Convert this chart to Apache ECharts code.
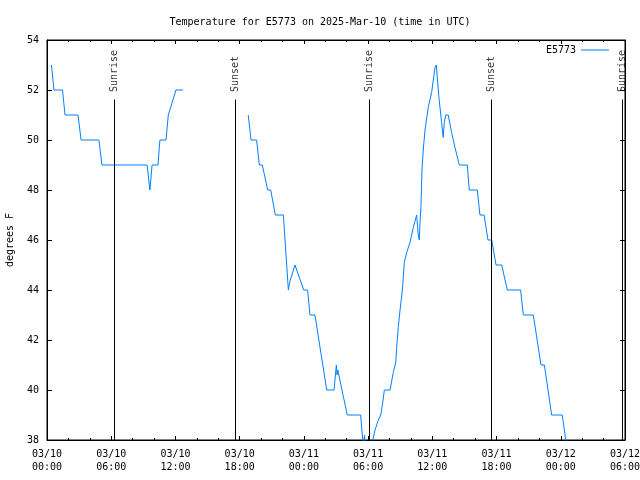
<!DOCTYPE html>
<html><head><meta charset="utf-8">
<script src="https://cdn.jsdelivr.net/npm/echarts@6/dist/echarts.min.js"></script>
<style>html,body{margin:0;padding:0;background:#fff}#c{width:640px;height:480px}</style>
</head><body><div id="c"></div>
<script>
const titleText = 'Temperature for E5773 on 2025-Mar-10 (time in UTC)';
const seriesName = 'E5773';
const yName = 'degrees F';
const times = [
'03/10 00:25','03/10 00:39','03/10 01:27','03/10 01:41','03/10 02:54','03/10 03:11','03/10 04:51','03/10 05:08',
'03/10 09:21','03/10 09:37','03/10 09:49','03/10 10:22','03/10 10:33','03/10 11:07','03/10 11:20','03/10 12:03','03/10 12:42',
'03/10 15:00',
'03/10 18:48','03/10 19:04','03/10 19:35','03/10 19:50','03/10 20:07','03/10 20:37','03/10 20:54','03/10 21:20','03/10 22:05',
'03/10 22:33','03/10 22:40','03/10 23:10','03/10 23:19','03/10 23:59','03/11 00:21','03/11 00:34','03/11 01:02','03/11 02:08',
'03/11 02:49','03/11 03:02','03/11 03:06','03/11 03:10','03/11 04:03','03/11 05:18','03/11 05:30','03/11 05:34','03/11 05:40',
'03/11 05:48','03/11 06:16','03/11 06:26','03/11 06:39','03/11 06:57','03/11 07:11','03/11 07:22','03/11 07:31','03/11 08:03',
'03/11 08:21','03/11 08:35','03/11 08:40','03/11 08:49','03/11 08:59','03/11 09:12','03/11 09:23','03/11 09:36','03/11 09:55',
'03/11 10:13','03/11 10:32','03/11 10:41','03/11 10:47','03/11 10:51','03/11 10:56','03/11 11:02','03/11 11:09','03/11 11:19',
'03/11 11:37','03/11 11:56','03/11 12:15','03/11 12:22','03/11 12:37','03/11 12:52','03/11 13:01','03/11 13:07','03/11 13:15',
'03/11 13:29','03/11 13:48','03/11 14:07','03/11 14:31','03/11 15:16','03/11 15:27','03/11 16:12','03/11 16:27','03/11 16:50',
'03/11 17:12','03/11 17:33','03/11 17:57','03/11 18:29','03/11 19:00','03/11 20:15','03/11 20:30','03/11 21:26','03/11 22:09',
'03/11 22:28','03/11 23:09','03/12 00:08','03/12 00:28','03/12 00:40'
];
const temps = [
53,52,52,51,51,50,50,49,
49,48,49,49,50,50,51,52,52,
null,
51,50,50,49,49,48,48,47,47,
44,44.3,45,45,44,44,43,43,40,
40,41,40.6,40.8,39,39,38,37.8,38.2,
37.4,37.4,38,38.4,38.8,39,39.5,40,40,
40.7,41.1,41.7,42.5,43.2,44,45.1,45.5,45.9,
46.5,47,46.2,46,46.7,47.3,48.8,49.6,50.4,
51.3,51.9,52.9,53,51.7,50.7,50.1,50.7,51,
51,50.3,49.7,49,49,48,48,47,47,
46,46,45,45,44,44,43,43,41,
41,39,39,38,37.4
];
const sunTimes = ['03/10 06:16','03/10 17:36','03/11 06:07','03/11 17:31','03/12 05:46'];
const sunLabels = ['Sunrise','Sunset','Sunrise','Sunset','Sunrise'];
const sunLineTop = 51.62;
const sunLabelBase = 51.92;
const yMin = 38, yMax = 54, yStep = 2;

function toMs(s){
  const [d,t] = s.split(' ');
  const [mo,da] = d.split('/').map(Number);
  const [h,mi] = t.split(':').map(Number);
  return Date.UTC(2025, mo-1, da, h, mi);
}
const xMin = Date.UTC(2025,2,10,0,0);
const xMax = Date.UTC(2025,2,12,6,0);
const xStep = 6*3600*1000;
const FONT = 'DejaVu Sans Mono';
const pad = n => String(n).padStart(2,'0');
function fmt(v){
  const d = new Date(v);
  return pad(d.getUTCMonth()+1)+'/'+pad(d.getUTCDate())+'\n'+pad(d.getUTCHours())+':'+pad(d.getUTCMinutes());
}
const lineData = times.map((t,i)=>[toMs(t), temps[i]===null ? '-' : temps[i]]);
const tickCommon = {
  axisLine:{show:true, lineStyle:{color:'#000', width:1}},
  axisTick:{show:true, inside:true, length:4, lineStyle:{color:'#000'}},
  splitLine:{show:false}
};
const chart = echarts.init(document.getElementById('c'), null, {renderer:'canvas'});
chart.setOption({
  animation:false,
  backgroundColor:'#fff',
  title:{text:titleText, left:'center', top:12, textStyle:{fontFamily:FONT, fontSize:10, fontWeight:'normal', color:'#000'}},
  legend:{data:[{name:seriesName, icon:'rect', itemStyle:{color:'#0080ff'}}], right:26, top:40, align:'right', itemWidth:28, itemHeight:1, itemGap:5,
    textStyle:{fontFamily:FONT, fontSize:10, color:'#000'}},
  grid:{left:47, right:15, top:40, bottom:40, show:true, borderColor:'#000', borderWidth:1, containLabel:false, outerBoundsMode:'none'},
  xAxis:[
    Object.assign({type:'value', min:xMin, max:xMax, interval:xStep, position:'bottom',
      minorTick:{show:true, splitNumber:3, length:2, lineStyle:{color:'#000'}},
      minorSplitLine:{show:false},
      axisLabel:{formatter:fmt, fontFamily:FONT, fontSize:10, color:'#000', lineHeight:13, margin:8, showMaxLabel:true, showMinLabel:true, hideOverlap:false}
    }, tickCommon),
    Object.assign({type:'value', min:xMin, max:xMax, interval:xStep, position:'top',
      minorTick:{show:true, splitNumber:3, length:2, lineStyle:{color:'#000'}},
      axisLabel:{show:false}
    }, tickCommon)
  ],
  yAxis:[
    {type:'value', min:yMin, max:yMax, interval:yStep, position:'left',
      name:yName, nameLocation:'middle', nameGap:32,
      nameTextStyle:{fontFamily:FONT, fontSize:10, color:'#000'},
      axisLine:{show:true, lineStyle:{color:'#000'}},
      axisTick:{show:true, inside:true, length:5, lineStyle:{color:'#000'}},
      splitLine:{show:false},
      axisLabel:{fontFamily:FONT, fontSize:10, color:'#000', margin:8}},
    {type:'value', min:yMin, max:yMax, interval:yStep, position:'right',
      axisLine:{show:true, lineStyle:{color:'#000'}},
      axisTick:{show:true, inside:true, length:5, lineStyle:{color:'#000'}},
      splitLine:{show:false},
      axisLabel:{show:false}}
  ],
  series:[
    {name:seriesName, type:'line', data:lineData, symbol:'none', showSymbol:false, connectNulls:false,
      lineStyle:{color:'#0080ff', width:1}, itemStyle:{color:'#0080ff'}, clip:true,
      markLine:{silent:true, symbol:['none','none'], label:{show:false},
        lineStyle:{color:'#000', width:1, type:'solid'},
        emphasis:{disabled:true},
        data: sunTimes.map(t=>[{coord:[toMs(t), yMin]},{coord:[toMs(t), sunLineTop]}])}
    },
    {name:'sun', type:'scatter', silent:true, symbolSize:0,
      data: sunTimes.map((t,i)=>[toMs(t), sunLabelBase, sunLabels[i]]),
      label:{show:true, position:'inside', rotate:90, align:'left', verticalAlign:'middle',
        formatter:p=>p.data[2], fontFamily:FONT, fontSize:10, color:'#000'}}
  ]
});
</script></body></html>
